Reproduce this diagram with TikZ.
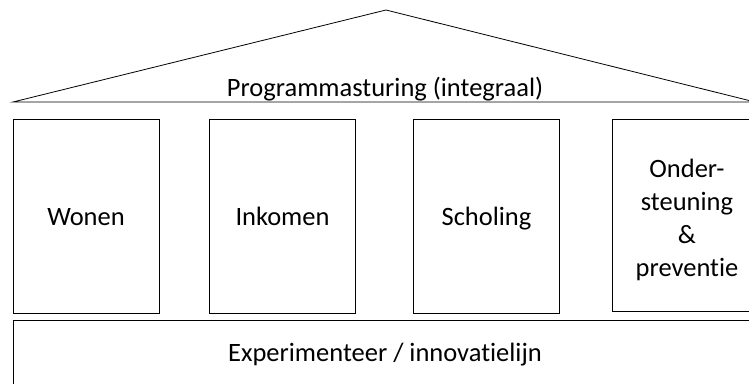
\documentclass[tikz,border=0pt]{standalone}
\usepackage{fontspec}
\setmainfont{Carlito}[RawFeature={-liga}]
\usetikzlibrary{positioning}
\newcommand{\pijlerstrut}{\rule[-10pt]{0pt}{39pt}}
\tikzset{
    pijler/.style={
        rectangle,
        draw,
        line width=0.8pt,
        align=center,
        minimum width=146pt,
        minimum height=194pt,
        font=\fontsize{26.5}{33}\selectfont
    }
}

\begin{document}
\begin{tikzpicture}[x=1pt,y=-1pt]
        \useasboundingbox (0,0) rectangle (749,383);
        \clip (0,0) rectangle (749,383);

        % dak
        \coordinate (nok) at (386,10);
        \coordinate (links) at (13,102);
        \coordinate (rechts) at (755,102);
        \draw[line width=0.8pt] (links) -- (nok) -- (rechts) -- cycle;
        \begin{scope}
            \clip (0,0) rectangle (749,101);
            \node[font=\fontsize{26.5}{33}\selectfont, anchor=base] (dak) at (385,96)
            {Programmasturing (integraal)};
        \end{scope}

        % pijlers
        \node[pijler] (wonen) at (86,216) {\pijlerstrut Wonen};
        \node[pijler] (inkomen) at (282.5,216) {\pijlerstrut Inkomen};
        \node[pijler] (scholing) at (486.5,216) {\pijlerstrut Scholing};
        \node[pijler, minimum width=150pt, minimum height=192pt] (ondersteuning) at (687,215)
        {\pijlerstrut Onder-\\
         steuning\\
         \&\\
         preventie};

        % fundament
        \node[pijler, minimum width=750pt, minimum height=70pt, anchor=north west] (fundament) at (13,320) {};
        \node[font=\fontsize{26.5}{33}\selectfont] (innovatie) at (385,355)
        {\strut Experimenteer / innovatielijn};
    \end{tikzpicture}
\end{document}
